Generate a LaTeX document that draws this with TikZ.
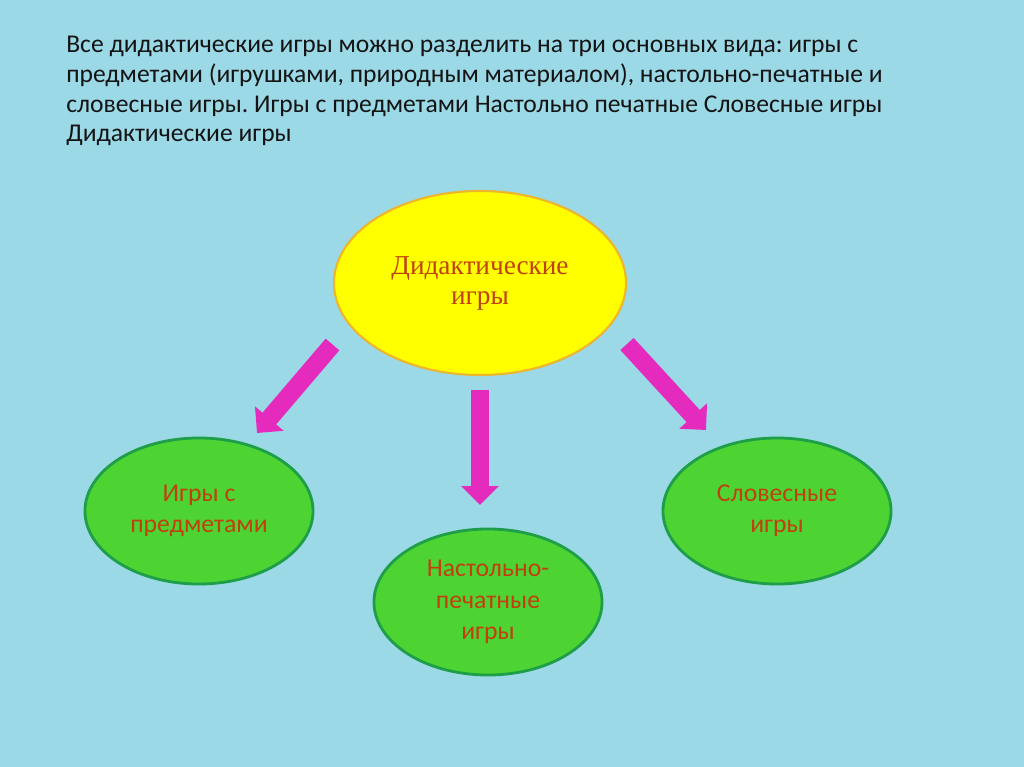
\documentclass[tikz,border=0pt]{standalone}
\usepackage{fontspec}
\setmainfont{Carlito}
\newfontfamily\serifcyr{Liberation Serif}
\usetikzlibrary{shapes.geometric,arrows.meta}
\frenchspacing
\definecolor{bgblue}{HTML}{9BD9E7}
\definecolor{sunfill}{HTML}{FFFF00}
\definecolor{sunline}{HTML}{EDB52C}
\definecolor{leaffill}{HTML}{4DD433}
\definecolor{leafline}{HTML}{1E9E48}
\definecolor{rusttext}{HTML}{C0400F}
\definecolor{pinkarrow}{HTML}{E52BBD}
\definecolor{headtext}{HTML}{141414}

\tikzset{
  kind/.style={ellipse, minimum width=5.7cm, minimum height=3.65cm, inner sep=0pt,
    fill=leaffill, draw=leafline, line width=2pt, text=rusttext, align=center,
    font=\fontsize{18.3}{22.3}\selectfont},
  pointer/.style={pinkarrow, line width=12.8pt,
    -{Triangle[width=26pt, length=13.5pt]}}
}

\begin{document}
\begin{tikzpicture}[x=0.025cm, y=-0.025cm]
		%%%%% START %%%%%
		
		\useasboundingbox (0, 0) rectangle (1024, 767);
		\fill[bgblue] (0, 0) rectangle (1024, 767);
		
		\node[anchor=base west, align=left, text=headtext, inner sep=0pt,
		  font=\fontsize{18.2}{21.3}\selectfont] (head) at (66, 142)
		  {Все дидактические игры можно разделить на три основных вида: игры с\\
		   предметами (игрушками, природным материалом), настольно-печатные и\\
		   словесные игры. Игры с предметами Настольно печатные Словесные игры\\
		   Дидактические игры};
		
		\node[ellipse, minimum width=7.3cm, minimum height=4.6cm, inner sep=0pt,
		  fill=sunfill, draw=sunline, line width=1.5pt, text=rusttext, align=center,
		  font=\serifcyr\fontsize{19.4}{21.3}\selectfont] (didact) at (480, 283)
		  {Дидактические\\игры};
		
		\node[kind] (predm) at (199, 511) {Игры с\\предметами};
		\node[kind] (nastol) at (488, 602) {Настольно-\\печатные\\игры};
		\node[kind] (slov) at (777, 511) {Словесные\\игры};
		
		\coordinate (lefttail) at (332.5, 344.5);
		\coordinate (lefttip) at (257, 433);
		\coordinate (midtail) at (480, 390);
		\coordinate (midtip) at (480, 505);
		\coordinate (righttail) at (627, 344);
		\coordinate (righttip) at (706, 430);
		
		\draw[pointer] (lefttail) -- (lefttip);
		\draw[pointer] (midtail) -- (midtip);
		\draw[pointer] (righttail) -- (righttip);
		
		%%%%% END %%%%%
	\end{tikzpicture}
\end{document}
